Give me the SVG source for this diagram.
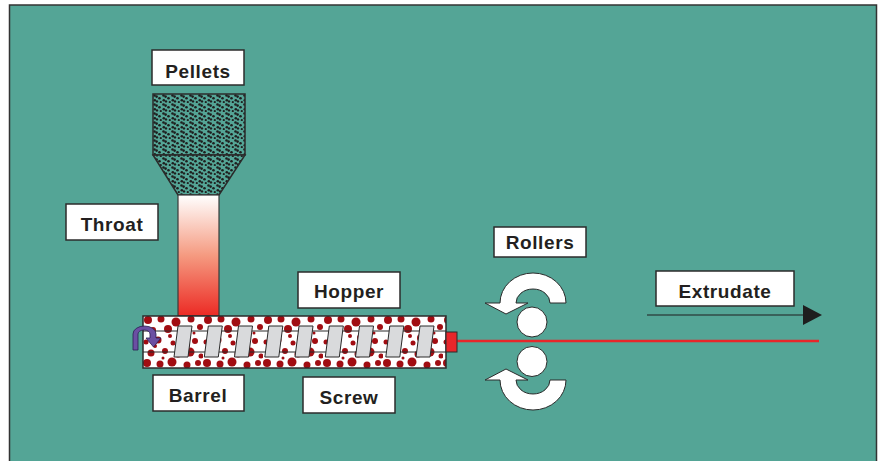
<svg xmlns="http://www.w3.org/2000/svg" width="878" height="461" viewBox="0 0 878 461">
  <style>
    .box { fill: #ffffff; stroke: #2b2b2b; stroke-width: 1.5; }
    .lbl { font-family: "Liberation Sans", Arial, sans-serif; font-weight: bold; font-size: 19px; letter-spacing: 0.6px; fill: #231f20; text-anchor: middle; }
    .flight { fill: #d9dadc; stroke: #2b2b2b; stroke-width: 1; }
    .roller { fill: #ffffff; stroke: #2b2b2b; stroke-width: 1; }
  </style>
  <defs>
    <!-- granular texture for the pellet container -->
    <pattern id="pellets" patternUnits="userSpaceOnUse" x="153" y="94" width="9" height="9">
      <rect width="9" height="9" fill="#54a596"/>
      <g fill="#1e1e1e">
        <circle cx="1.5" cy="1.5" r="1.3"/>
        <circle cx="3.6" cy="2.6" r="1.3"/>
        <circle cx="6.5" cy="4.2" r="1.3"/>
        <circle cx="1.8" cy="6.2" r="1.3"/>
        <circle cx="4.0" cy="7.4" r="1.2"/>
        <circle cx="7.8" cy="8.0" r="1.1"/>
      </g>
    </pattern>
    <!-- molten polymer dots inside the barrel -->
    <pattern id="melt" patternUnits="userSpaceOnUse" x="143" y="316" width="60" height="52">
      <rect width="60" height="52" fill="#ffffff"/>
      <g fill="#a10d12">
        <circle cx="5" cy="4" r="4"/><circle cx="18" cy="3" r="3.5"/><circle cx="33" cy="6" r="4.5"/>
        <circle cx="48" cy="3" r="3.5"/><circle cx="57" cy="11" r="3"/><circle cx="10" cy="14" r="3"/>
        <circle cx="25" cy="13" r="4"/><circle cx="42" cy="15" r="2.5"/><circle cx="3" cy="26" r="2.5"/>
        <circle cx="15" cy="24" r="3.5"/><circle cx="30" cy="27" r="2.5"/><circle cx="38" cy="22" r="4"/>
        <circle cx="52" cy="25" r="3"/><circle cx="8" cy="37" r="3.5"/><circle cx="22" cy="35" r="3"/>
        <circle cx="35" cy="38" r="3.5"/><circle cx="47" cy="36" r="4.5"/><circle cx="58" cy="40" r="2.5"/>
        <circle cx="4" cy="47" r="4"/><circle cx="17" cy="48" r="3.5"/><circle cx="29" cy="46" r="4.5"/>
        <circle cx="44" cy="49" r="3.5"/><circle cx="55" cy="47" r="3"/><circle cx="12" cy="30" r="2"/>
        <circle cx="45" cy="30" r="2"/><circle cx="27" cy="20" r="2"/><circle cx="20" cy="42" r="1.5"/>
        <circle cx="51" cy="17" r="1.5"/>
      </g>
    </pattern>
    <linearGradient id="heat" x1="0" y1="0" x2="0" y2="1">
      <stop offset="0" stop-color="#ffffff"/>
      <stop offset="0.5" stop-color="#f59a80"/>
      <stop offset="1" stop-color="#ec2a24"/>
    </linearGradient>
    <path id="rotArrow" d="M 566 303 A 33 30 0 0 0 500 303 L 485 303 L 506 314 L 528 303 L 516 303 A 17 14 0 0 1 550 303 Z" fill="#ffffff" stroke="#2b2b2b" stroke-width="1"/>
  </defs>

  <!-- panel -->
  <rect x="9.5" y="5" width="867" height="462" fill="#54a596" stroke="#333333" stroke-width="1.5"/>

  <!-- connectors -->
  <g id="connectors">
    <line x1="457" y1="341" x2="819" y2="341" stroke="#e8262a" stroke-width="2.5"/>
    <line x1="647" y1="315" x2="804" y2="315" stroke="#1e1e1e" stroke-width="1.2"/>
    <polygon points="803,305 822,315 803,325" fill="#1e1e1e"/>
  </g>

  <g id="hopper-body">
    <rect x="153" y="94" width="92" height="61" fill="url(#pellets)" stroke="#2b2b2b" stroke-width="1.5"/>
    <polygon points="153,155 245,155 219,195 178,195" fill="url(#pellets)" stroke="#2b2b2b" stroke-width="1.5"/>
  </g>

  <g id="throat-body">
    <rect x="178" y="195" width="41" height="121" fill="url(#heat)" stroke="#3a3a3a" stroke-width="1.2"/>
  </g>

  <g id="barrel-body">
    <rect x="143" y="316" width="303" height="52" fill="url(#melt)" stroke="#2b2b2b" stroke-width="1.5"/>
    <line x1="143" y1="331" x2="446" y2="331" stroke="#2b2b2b" stroke-width="1"/>
    <line x1="143" y1="352" x2="446" y2="352" stroke="#2b2b2b" stroke-width="1"/>
    <g id="screw-flights">
      <polygon class="flight" points="178,326 192,326 188,357 174,357"/>
      <polygon class="flight" points="208.3,326 222.3,326 218.3,357 204.3,357"/>
      <polygon class="flight" points="238.5,326 252.5,326 248.5,357 234.5,357"/>
      <polygon class="flight" points="268.8,326 282.8,326 278.8,357 264.8,357"/>
      <polygon class="flight" points="299,326 313,326 309,357 295,357"/>
      <polygon class="flight" points="329.3,326 343.3,326 339.3,357 325.3,357"/>
      <polygon class="flight" points="359.5,326 373.5,326 369.5,357 355.5,357"/>
      <polygon class="flight" points="389.8,326 403.8,326 399.8,357 385.8,357"/>
      <polygon class="flight" points="420,326 434,326 430,357 416,357"/>
    </g>
    <rect x="446" y="332" width="11" height="20" fill="#e8262a" stroke="#2b2b2b" stroke-width="1"/>
    <!-- drive rotation -->
    <path d="M 133 350 L 133 334 A 11.5 8 0 0 1 156 334 L 156 338 L 161 338 L 153.5 347 L 146 338 L 150 338 L 150 334 A 6 4 0 0 0 138 334 L 138 350 Z" fill="#6b4fa3" stroke="#2a2050" stroke-width="0.8"/>
  </g>

  <g id="rollers-body">
    <circle class="roller" cx="532" cy="322" r="15"/>
    <circle class="roller" cx="532" cy="361.5" r="15"/>
    <use href="#rotArrow"/>
    <use href="#rotArrow" transform="translate(0,683) scale(1,-1)"/>
  </g>

  <g id="pellets">
    <rect class="box" x="152" y="50" width="92" height="35"/>
    <text class="lbl" x="198" y="78">Pellets</text>
  </g>
  <g id="throat">
    <rect class="box" x="66" y="204" width="92" height="36"/>
    <text class="lbl" x="112" y="231">Throat</text>
  </g>
  <g id="rollers">
    <rect class="box" x="494" y="227" width="92" height="30"/>
    <text class="lbl" x="540" y="249">Rollers</text>
  </g>
  <g id="hopper">
    <rect class="box" x="298" y="272" width="102" height="36"/>
    <text class="lbl" x="349" y="298">Hopper</text>
  </g>
  <g id="extrudate">
    <rect class="box" x="656" y="271" width="138" height="35"/>
    <text class="lbl" x="725" y="298">Extrudate</text>
  </g>
  <g id="barrel">
    <rect class="box" x="153" y="375" width="91" height="36"/>
    <text class="lbl" x="198" y="402">Barrel</text>
  </g>
  <g id="screw">
    <rect class="box" x="303" y="377" width="92" height="36"/>
    <text class="lbl" x="349" y="404">Screw</text>
  </g>
</svg>
